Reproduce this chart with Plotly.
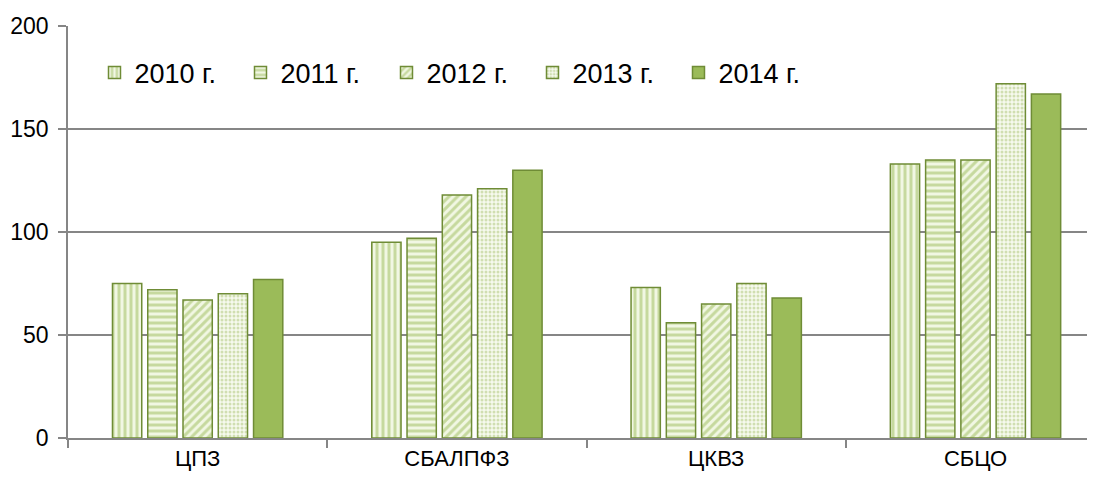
import plotly.graph_objects as go

categories = ["ЦПЗ", "СБАЛПФЗ", "ЦКВЗ", "СБЦО"]
years = ["2010 г.", "2011 г.", "2012 г.", "2013 г.", "2014 г."]

v2010 = [75, 95, 73, 133]
v2011 = [72, 97, 56, 135]
v2012 = [67, 118, 65, 135]
v2013 = [70, 121, 75, 172]
v2014 = [77, 130, 68, 167]

series = [v2010, v2011, v2012, v2013, v2014]
shapes = ["|", "-", "/", ".", ""]

GREEN = "#9BBB59"
EDGE = "#6F8C36"
LIGHT = "#F1F7E3"

fig = go.Figure()
for name, vals, shp in zip(years, series, shapes):
    if shp == ".":
        pattern = dict(shape=shp, fgcolor="#A9C474", bgcolor="#F6F9EE", size=4, solidity=0.45)
    elif shp:
        pattern = dict(shape=shp, fgcolor=GREEN, bgcolor=LIGHT, size=6, solidity=0.5)
    else:
        pattern = dict(shape="")
    fig.add_trace(go.Bar(
        x=categories, y=vals, name=name,
        marker=dict(color=GREEN, line=dict(color=EDGE, width=1.5), pattern=pattern),
    ))

font = "Liberation Sans, Arial, sans-serif"

# page body keeps its 8px margin, so the figure is sized to fit inside it
fig.update_layout(
    width=1079, height=469,
    margin=dict(l=60, r=0, t=18, b=39),
    paper_bgcolor="white", plot_bgcolor="white",
    barmode="group", bargap=0.32, bargroupgap=0.17,
    showlegend=True,
    legend=dict(
        orientation="h", x=0.026, y=0.886, xanchor="left", yanchor="middle",
        font=dict(family=font, size=27, color="black"),
        entrywidth=101, bgcolor="rgba(0,0,0,0)",
    ),
)
fig.update_xaxes(
    range=[-0.5, 3.43], tickson="boundaries", automargin=False,
    ticks="outside", ticklen=8, tickcolor="#868686", tickwidth=1.5,
    showline=True, linecolor="#868686", linewidth=1.5,
    tickfont=dict(family=font, size=22, color="black"),
    showgrid=False,
)
fig.update_yaxes(
    range=[0, 200], tickvals=[0, 50, 100, 150, 200], automargin=False,
    ticks="outside", ticklen=8, tickcolor="#868686", tickwidth=1.5,
    showline=True, linecolor="#868686", linewidth=1.5,
    showgrid=True, gridcolor="#868686", gridwidth=1.5,
    tickfont=dict(family=font, size=23, color="black"),
    ticklabelstandoff=5, zeroline=False,
)

fig.write_html("out.html")
